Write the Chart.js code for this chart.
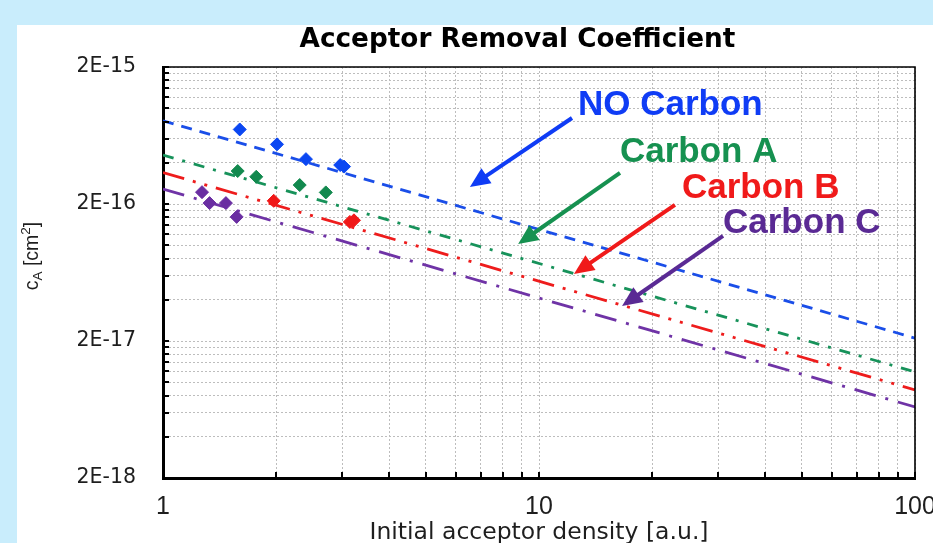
<!DOCTYPE html>
<html>
<head>
<meta charset="utf-8">
<script src="https://cdn.jsdelivr.net/npm/chart.js"></script>
<style>
  html, body { margin: 0; padding: 0; width: 933px; height: 543px; overflow: hidden; background: #c9edfc; }
  #wrap { position: absolute; left: 17px; top: 25px; width: 943px; height: 518px; background: #ffffff; }
  canvas { display: block; }
</style>
</head>
<body>
<div id="wrap"><canvas id="c" width="943" height="518" style="width:943px;height:518px"></canvas></div>
<script>
// ---------- text ----------
const chartTitle = 'Acceptor Removal Coefficient';
const xAxisTitle = 'Initial acceptor density [a.u.]';
const seriesNames = ['NO Carbon', 'Carbon A', 'Carbon B', 'Carbon C'];

// ---------- ticks ----------
const xMajorTicks = [1, 10, 100];
const xTickLabels = ['1', '10', '100'];
const yMajorTicks = [2e-18, 2e-17, 2e-16, 2e-15];
const yTickLabels = ['2E-18', '2E-17', '2E-16', '2E-15'];
const minorSteps = [1, 2, 3, 4, 5, 6, 7, 8, 9];

// ---------- measured points ----------
const noCarbonX = [1.60, 2.01, 2.40, 2.96, 3.03];
const noCarbonY = [7.0e-16, 5.45e-16, 4.25e-16, 3.85e-16, 3.75e-16];
const carbonAX = [1.58, 1.77, 2.31, 2.71];
const carbonAY = [3.48e-16, 3.16e-16, 2.75e-16, 2.43e-16];
const carbonBX = [1.97, 3.14, 3.22];
const carbonBY = [2.11e-16, 1.48e-16, 1.52e-16];
const carbonCX = [1.27, 1.33, 1.47, 1.57];
const carbonCY = [2.44e-16, 2.03e-16, 2.03e-16, 1.61e-16];

// ---------- fitted power-law lines (end points) ----------
const fitX = [1, 100];
const noCarbonFit = [8.1e-16, 2.1e-17];
const carbonAFit = [4.55e-16, 1.19e-17];
const carbonBFit = [3.39e-16, 8.8e-18];
const carbonCFit = [2.57e-16, 6.6e-18];

// ---------- annotation anchors (data units) ----------
const labelX = [12.7, 16.42, 24.0, 30.86];
const labelY = [8.93e-16, 4.05e-16, 2.21e-16, 1.23e-16];
const arrowFromX = [12.24, 16.42, 22.99, 30.86];
const arrowFromY = [8.49e-16, 3.37e-16, 1.97e-16, 1.17e-16];
const arrowToX = [6.55, 8.80, 12.39, 16.63];
const arrowToY = [2.66e-16, 1.02e-16, 6.17e-17, 3.6e-17];

// ---------- styles ----------
const pointColors = ['#0b47f2', '#12894e', '#f01818', '#6a2ea2'];
const lineColors = ['#1a4ee8', '#17925a', '#ee1c1c', '#6f33a6'];
const textColors = ['#0f3cf5', '#169150', '#f01a1a', '#5a2a94'];
const dashes = [[11, 8], [11, 9, 3, 9], [22, 9, 3, 9, 3, 9], [22, 10, 3, 10]];

const pts = (xs, ys) => xs.map((x, i) => ({ x: x, y: ys[i] }));
const expand = (majors) => {
  const out = [];
  majors.forEach((m, i) => {
    if (i < majors.length - 1) minorSteps.forEach(k => out.push(m * k));
    else out.push(m);
  });
  return out;
};
const xGrid = expand(xMajorTicks);
const yGrid = expand(yMajorTicks);

const pointSets = [[noCarbonX, noCarbonY], [carbonAX, carbonAY], [carbonBX, carbonBY], [carbonCX, carbonCY]];
const fitSets = [noCarbonFit, carbonAFit, carbonBFit, carbonCFit];

const datasets = [];
pointSets.forEach((p, i) => datasets.push({
  label: seriesNames[i] + ' data',
  data: pts(p[0], p[1]),
  showLine: false,
  pointStyle: 'rectRot',
  pointRadius: 6.5,
  backgroundColor: pointColors[i],
  borderColor: pointColors[i],
  borderWidth: 1
}));
fitSets.forEach((f, i) => datasets.push({
  label: seriesNames[i] + ' fit',
  data: pts(fitX, f),
  showLine: true,
  pointRadius: 0,
  borderColor: lineColors[i],
  borderWidth: 2.8,
  borderDash: dashes[i],
  borderCapStyle: 'butt',
  fill: false
}));

function drawArrow(ctx, x1, y1, x2, y2, color) {
  const ang = Math.atan2(y2 - y1, x2 - x1);
  const hl = 20, hw = 9;
  const bx = x2 - hl * Math.cos(ang), by = y2 - hl * Math.sin(ang);
  ctx.strokeStyle = color; ctx.fillStyle = color;
  ctx.lineWidth = 4; ctx.lineCap = 'butt';
  ctx.beginPath(); ctx.moveTo(x1, y1); ctx.lineTo(bx + 2 * Math.cos(ang), by + 2 * Math.sin(ang)); ctx.stroke();
  ctx.beginPath();
  ctx.moveTo(x2, y2);
  ctx.lineTo(bx + hw * Math.sin(ang), by - hw * Math.cos(ang));
  ctx.lineTo(bx - hw * Math.sin(ang), by + hw * Math.cos(ang));
  ctx.closePath(); ctx.fill();
}

const framePlugin = {
  id: 'frameTicks',
  afterDatasetsDraw(chart) {
    const { ctx, chartArea: a, scales: { x, y } } = chart;
    ctx.save();
    ctx.strokeStyle = '#000';
    ctx.lineWidth = 1.6;
    ctx.beginPath();
    ctx.moveTo(a.left, a.top); ctx.lineTo(a.right, a.top); ctx.lineTo(a.right, a.bottom);
    ctx.stroke();
    ctx.lineWidth = 2;
    y.ticks.forEach((t, i) => {
      if (i === 0) return;
      const py = Math.round(y.getPixelForValue(t.value));
      ctx.beginPath(); ctx.moveTo(a.left, py); ctx.lineTo(a.left + 6, py); ctx.stroke();
    });
    x.ticks.forEach((t, i) => {
      if (i === 0) return;
      const px = Math.round(x.getPixelForValue(t.value));
      ctx.beginPath(); ctx.moveTo(px, a.bottom); ctx.lineTo(px, a.bottom - 6); ctx.stroke();
    });
    ctx.restore();
  }
};

const annotationPlugin = {
  id: 'labelsArrows',
  afterDraw(chart) {
    const { ctx, chartArea: a, scales: { x, y } } = chart;
    ctx.save();
    // chart title
    ctx.fillStyle = '#000';
    ctx.font = 'bold 26.3px "DejaVu Sans", sans-serif';
    ctx.textAlign = 'center';
    ctx.textBaseline = 'middle';
    ctx.fillText(chartTitle, (a.left + a.right) / 2 - 21.5, 15);
    // series labels with arrows
    seriesNames.forEach((name, i) => {
      drawArrow(ctx,
        x.getPixelForValue(arrowFromX[i]), y.getPixelForValue(arrowFromY[i]),
        x.getPixelForValue(arrowToX[i]), y.getPixelForValue(arrowToY[i]), textColors[i]);
      ctx.fillStyle = textColors[i];
      ctx.font = 'bold 35px "Liberation Sans", Arial, sans-serif';
      ctx.textAlign = 'left';
      ctx.textBaseline = 'alphabetic';
      ctx.fillText(name, x.getPixelForValue(labelX[i]), y.getPixelForValue(labelY[i]));
    });
    // y axis title: c_A [cm^2]
    ctx.translate(21, 231);
    ctx.rotate(-Math.PI / 2);
    ctx.fillStyle = '#1e1e1e';
    ctx.textAlign = 'left';
    ctx.textBaseline = 'alphabetic';
    const big = '19.5px "Liberation Sans", Arial, sans-serif';
    const small = '13.5px "Liberation Sans", Arial, sans-serif';
    const parts = [['c', big, 0], ['A', small, 4], [' [cm', big, 0], ['2', small, -8], [']', big, 0]];
    let total = 0;
    parts.forEach(p => { ctx.font = p[1]; total += ctx.measureText(p[0]).width; });
    let cx = -total / 2;
    parts.forEach(p => { ctx.font = p[1]; ctx.fillText(p[0], cx, p[2]); cx += ctx.measureText(p[0]).width; });
    ctx.restore();
  }
};

new Chart(document.getElementById('c'), {
  type: 'scatter',
  data: { datasets: datasets },
  options: {
    responsive: false,
    animation: false,
    devicePixelRatio: 1,
    layout: { padding: { left: 0, right: 45, top: 42, bottom: 0 } },
    plugins: {
      legend: { display: false },
      tooltip: { enabled: false },
      title: { display: false }
    },
    scales: {
      x: {
        type: 'logarithmic',
        position: 'bottom',
        min: 1,
        max: 100,
        afterBuildTicks: s => { s.ticks = xGrid.map(v => ({ value: v })); },
        afterFit: s => { s.height = 65; },
        ticks: {
          autoSkip: false,
          maxRotation: 0,
          padding: 14,
          color: '#1e1e1e',
          font: { family: '"Liberation Sans", Arial, sans-serif', size: 25 },
          callback: (v, i) => (i % 9 === 0 ? xTickLabels[i / 9] : '')
        },
        grid: { color: '#bdbdbd', lineWidth: 1, drawTicks: false },
        border: { display: true, color: '#000', width: 3, dash: [2, 2] },
        title: {
          display: true,
          text: xAxisTitle,
          color: '#1e1e1e',
          font: { family: '"DejaVu Sans", sans-serif', size: 23.5 },
          padding: { top: 0, bottom: -4 }
        }
      },
      y: {
        type: 'logarithmic',
        position: 'left',
        min: 2e-18,
        max: 2e-15,
        afterBuildTicks: s => { s.ticks = yGrid.map(v => ({ value: v })); },
        afterFit: s => { s.width = 146; },
        ticks: {
          autoSkip: false,
          padding: 27,
          color: '#1e1e1e',
          font: { family: '"DejaVu Sans", sans-serif', size: 20.5 },
          callback: (v, i) => (i % 9 === 0 ? yTickLabels[i / 9] : '')
        },
        grid: { color: '#bdbdbd', lineWidth: 1, drawTicks: false },
        border: { display: true, color: '#000', width: 3, dash: [2, 2] }
      }
    }
  },
  plugins: [framePlugin, annotationPlugin]
});
</script>
</body>
</html>
